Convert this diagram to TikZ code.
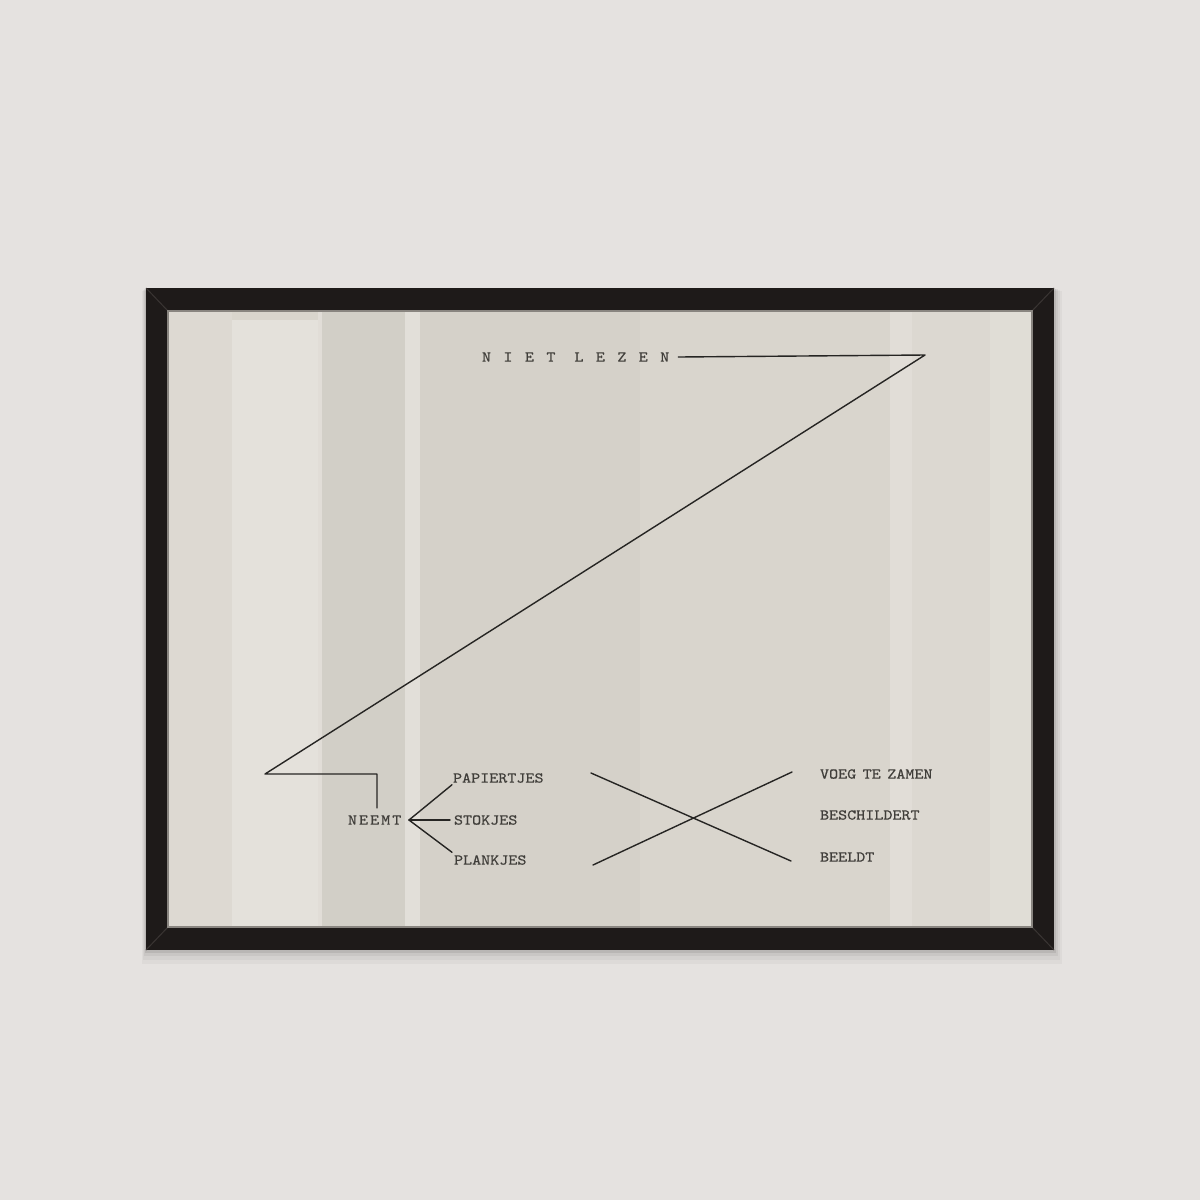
\documentclass[tikz,border=0pt]{standalone}
\usepackage{fontspec}
\newfontfamily\tw[Extension=.otf, FakeStretch=1.15, FakeBold=0.6]{lmmono10-regular}
\definecolor{wall}{HTML}{E5E2E0}
\definecolor{framec}{HTML}{1E1A19}
\definecolor{framehi}{HTML}{3A3533}
\definecolor{paper}{HTML}{D9D5CD}
\definecolor{ink}{HTML}{262523}
\definecolor{tink}{HTML}{403E3A}
\tikzset{
  typed/.style={font=\tw\fontsize{7.5pt}{9pt}\selectfont, text=tink, inner sep=0pt, outer sep=0pt, anchor=west},
  pen/.style={draw=ink, line width=0.7pt, line join=round, line cap=round},
  band/.style={fill=#1, draw=none}
}
\begin{document}
\begin{tikzpicture}[x=0.5pt, y=-0.5pt]
\useasboundingbox (0,0) rectangle (1200,1200);
% wall
\fill[wall] (0,0) rectangle (1200,1200);
% soft shadow
\foreach \d/\o in {14/0.03, 10/0.04, 6/0.05, 3/0.08} {
  \fill[black, opacity=\o] (146-\d*0.3,288+\d*0.2) rectangle (1054+\d*0.6,950+\d);
}
% frame
\fill[framec] (146,288) rectangle (1054,950);
\draw[framehi, line width=0.5pt] (146,288) -- (168,311);
\draw[framehi, line width=0.5pt] (1054,288) -- (1032,311);
\draw[framehi, line width=0.5pt] (146,950) -- (168,927);
\draw[framehi, line width=0.5pt] (1054,950) -- (1032,927);
% paper and soft vertical reflections
\fill[paper] (168,311) rectangle (1032,927);
\fill[band=paper!90!white] (168,311) rectangle (232,927);
\fill[band=paper!72!white] (232,320) rectangle (318,927);
\fill[band=paper!80!white] (318,311) rectangle (322,927);
\fill[band=paper!97!black] (322,311) rectangle (405,927);
\fill[band=paper!75!white] (405,311) rectangle (420,927);
\fill[band=paper!98!black] (420,311) rectangle (640,927);
\fill[band=paper!80!white] (890,311) rectangle (912,927);
\fill[band=paper!92!white] (912,311) rectangle (990,927);
\fill[band=paper!82!white] (990,311) rectangle (1032,927);
\draw[framehi!50!paper, line width=0.6pt] (168,311) rectangle (1032,927);

% texts
\node[typed] (niet) at (482,357) {N\kern6.2pt I\kern6.2pt E\kern6.2pt T\kern9.5pt L\kern6.2pt E\kern6.2pt Z\kern6.2pt E\kern6.2pt N};
\node[typed] (neemt) at (348,820) {N\kern1pt E\kern1pt E\kern1pt M\kern1pt T};
\node[typed] (papier) at (453,778) {PAPIERTJES};
\node[typed] (stok) at (454,820) {STOKJES};
\node[typed] (plank) at (454,860) {PLANKJES};
\node[typed] (voeg) at (820,774) {VOEG\kern-1.3pt{} TE\kern-1.3pt{} ZAMEN};
\node[typed] (besch) at (820,815) {BESCHILDERT};
\node[typed] (beeldt) at (820,857) {BEELDT};

% connector points
\coordinate (tr) at (925,355);
\coordinate (bl) at (265,774);
\coordinate (elbow) at (377,774);
\coordinate (drop) at (377,808);
\coordinate (br) at (409,820);
\coordinate (xa) at (591,773);
\coordinate (xb) at (791,861);
\coordinate (xc) at (593,865);
\coordinate (xd) at (792,772);

% Z line
\draw[pen] ([xshift=4.5pt]niet.east) -- (tr) -- (bl) -- (elbow) -- (drop);
% branches
\draw[pen] (br) -- ([xshift=-0.5pt, yshift=-1pt]papier.south west);
\draw[pen] (br) -- ([xshift=-2pt]stok.west |- br);
\draw[pen] (br) -- ([xshift=-1pt, yshift=1.5pt]plank.north west);
% cross
\draw[pen] (xa) -- (xb);
\draw[pen] (xc) -- (xd);
\end{tikzpicture}
\end{document}
